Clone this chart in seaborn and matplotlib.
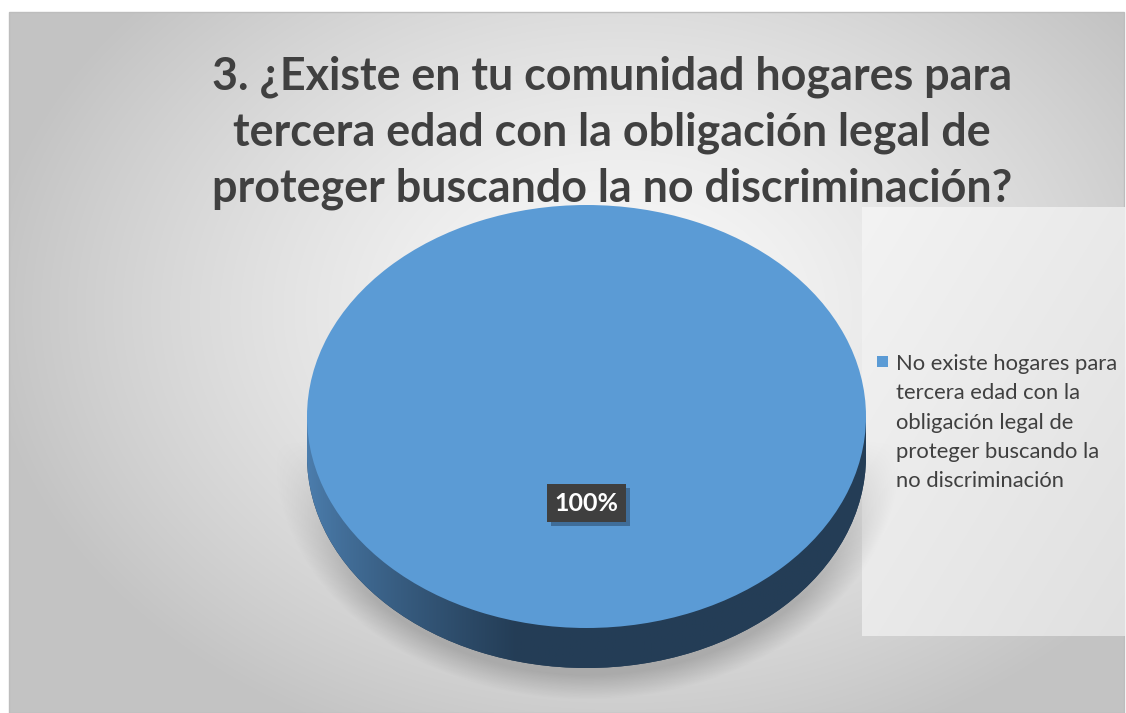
import numpy as np
import seaborn as sns
import matplotlib.pyplot as plt
import matplotlib.patheffects as pe
from matplotlib.patches import Rectangle
from matplotlib.colors import to_rgb

# data
labels = ["No existe hogares para\ntercera edad con la\nobligación legal de\nproteger buscando la\nno discriminación"]
values = [100]
title = ("3. ¿Existe en tu comunidad hogares para\n"
         "tercera edad con la obligación legal de\n"
         "proteger buscando la no discriminación?")

sns.set_theme(style="white")
plt.rcParams['font.family'] = ['Lato', 'DejaVu Sans']

W, H = 1126, 713
top_blue = "#5b9bd5"
text_gray = "#404040"

fig = plt.figure(figsize=(W / 100, H / 100), dpi=100)
fig.patch.set_facecolor("white")

# ---------------------------------------------------------------- background
bg = fig.add_axes([0, 0, 1, 1])
bg.set_xlim(0, W)
bg.set_ylim(H, 0)
bg.axis("off")

px0, px1, py0, py1 = 9, 1124, 12, 713
yy, xx = np.mgrid[py0:py1, px0:px1]
t = np.sqrt(((xx - 620) / 640.0) ** 2 + ((yy - 310) / 470.0) ** 2)
t = np.clip(t, 0, 1) ** 1.4
c0, c1 = np.array(to_rgb("#f9f9f9")), np.array(to_rgb("#c3c3c3"))
grad = c0 + (c1 - c0) * t[..., None]
bg.imshow(grad, extent=(px0, px1, py1, py0), aspect="auto", zorder=0, interpolation="bilinear")
bg.add_patch(Rectangle((px0, py0), px1 - px0, py1 - py0, fill=False,
                       edgecolor="#bdbdbd", lw=1, zorder=1))

# legend panel
lx0, lx1, ly0, ly1 = 862, 1125, 207, 636
ly, lx = np.mgrid[ly0:ly1, lx0:lx1]
tl = ((lx - lx0) / (lx1 - lx0) + (ly - ly0) / (ly1 - ly0)) / 2
l0, l1 = np.array(to_rgb("#f3f3f3")), np.array(to_rgb("#e0e0e0"))
bg.imshow(l0 + (l1 - l0) * tl[..., None], extent=(lx0, lx1, ly1, ly0),
          aspect="auto", zorder=1, interpolation="bilinear")

# soft shadow under the pie
sy, sx = np.mgrid[380:713, 260:920]
r = np.sqrt(((sx - 587) / 287.0) ** 2 + ((sy - 455) / 224.0) ** 2)
alpha = 0.42 * np.clip((1.09 - r) / 0.11, 0, 1) * np.clip((sy - 440) / 160.0, 0, 1)
shadow = np.zeros(r.shape + (4,))
shadow[..., :3] = 0.45
shadow[..., 3] = alpha
bg.imshow(shadow, extent=(260, 920, 713, 380), aspect="auto", zorder=2, interpolation="bilinear")

# ---------------------------------------------------------------- pie
left, right, top, bottom = 307, 866, 205, 672
ry_px = 211.5
depth = 40 / ry_px
ylo = 1 - (bottom - top) / ry_px
ax = fig.add_axes([left / W, 1 - bottom / H, (right - left) / W, (bottom - top) / H])
ax.patch.set_alpha(0)

# side of the cylinder
side, _ = ax.pie(values, center=(0, -depth), radius=1, startangle=90,
                 colors=["#243d56"], wedgeprops=dict(linewidth=0, zorder=1))
gx = np.linspace(-1, 1, 400)
gt = np.clip((gx + 1) / 0.75, 0, 1) ** 0.8
s0, s1 = np.array(to_rgb("#4c7eae")), np.array(to_rgb("#243d56"))
side_grad = (s0 + (s1 - s0) * gt[:, None])[None, :, :]
for clip in [side[0], Rectangle((-1, -depth), 2, depth, transform=ax.transData)]:
    im = ax.imshow(side_grad, extent=(-1, 1, -1 - depth, 0), aspect="auto", zorder=2)
    im.set_clip_path(clip)

# top face
wedges, texts, autotexts = ax.pie(values, radius=1, startangle=90, colors=[top_blue],
                                  autopct="%1.0f%%", pctdistance=0.41,
                                  wedgeprops=dict(linewidth=0, zorder=3),
                                  textprops=dict(color="white", fontsize=18, fontweight="bold"))
for at in autotexts:
    at.set_zorder(6)
    at.set_bbox(dict(boxstyle="square,pad=0.3", facecolor="#3f3f3f", edgecolor="none"))
    at.get_bbox_patch().set_path_effects([
        pe.SimplePatchShadow(offset=(3, -3), shadow_rgbFace="#1e3550", alpha=0.45),
        pe.Normal()])

ax.set_aspect("auto")
ax.set_xlim(-1, 1)
ax.set_ylim(ylo, 1)
ax.axis("off")

# ---------------------------------------------------------------- title & legend
fig.text(612 / W, 1 - 133 / H, title, ha="center", va="center", fontsize=32.3,
         fontweight="bold", color=text_gray, linespacing=1.4)

# legend entry: colour key at the first line of the wrapped label
bg.add_patch(Rectangle((877, 356), 11, 11, facecolor=top_blue, edgecolor="none", zorder=3))
bg.text(896, 354, labels[0], ha="left", va="top", fontsize=15.8, color=text_gray,
        linespacing=1.58, zorder=3)

fig.savefig("out.png", dpi=100)
